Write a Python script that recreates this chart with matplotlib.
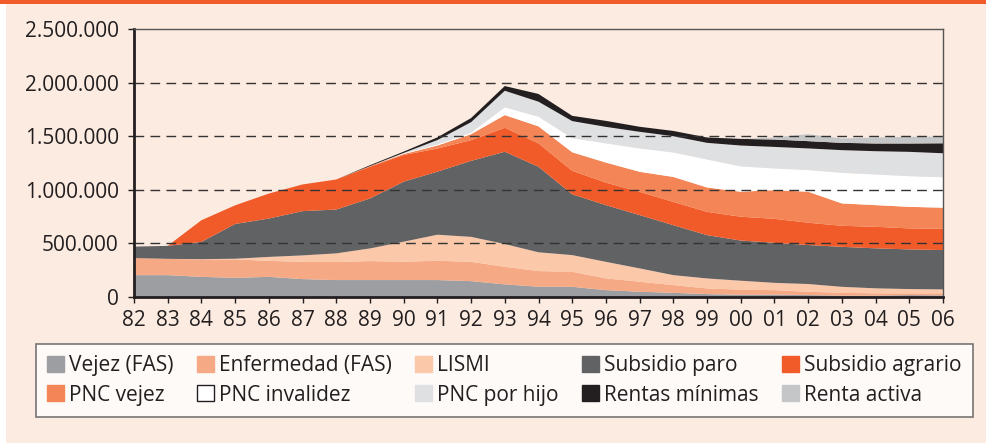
import matplotlib
matplotlib.use("Agg")
import matplotlib.pyplot as plt
from matplotlib.patches import Patch, Rectangle
import numpy as np

plt.rcParams['font.family'] = ['Open Sans', 'DejaVu Sans']

# beneficiaries, in thousands, 1982-2006
years = list(range(1982, 2007))
vejez = [204, 204, 188, 179, 188, 167, 158, 158, 158, 158, 148, 118, 96, 95, 64, 49, 39, 27, 21, 22, 18, 13, 13, 18, 15]
enfermedad = [159, 152, 162, 172, 149, 161, 168, 177, 171, 180, 180, 164, 146, 140, 110, 93, 72, 53, 47, 42, 31, 26, 21, 16, 19]
lismi = [0, 0, 3, 6, 37, 60, 81, 118, 187, 243, 233, 212, 175, 156, 154, 125, 93, 93, 84, 68, 72, 56, 47, 40, 37]
paro = [107, 121, 161, 324, 358, 413, 409, 466, 560, 588, 709, 861, 798, 567, 529, 497, 466, 404, 375, 373, 364, 373, 373, 370, 367]
agrario = [0, 0, 202, 174, 233, 249, 280, 295, 249, 216, 193, 224, 218, 219, 210, 217, 217, 217, 222, 224, 208, 196, 201, 196, 199]
pnc_vejez = [0, 0, 0, 0, 0, 0, 0, 7, 9, 28, 56, 118, 159, 173, 187, 187, 233, 228, 233, 268, 289, 209, 202, 201, 196]
pnc_invalidez = [0, 0, 0, 0, 0, 0, 0, 0, 5, 9, 14, 72, 90, 132, 179, 218, 228, 261, 237, 202, 202, 285, 286, 286, 284]
pnc_hijo = [0, 0, 0, 0, 0, 0, 0, 0, 5, 42, 98, 155, 140, 159, 154, 155, 152, 155, 194, 201, 202, 212, 217, 227, 224]
rentas = [0, 0, 0, 0, 0, 0, 0, 8, 12, 25, 38, 44, 72, 49, 56, 47, 49, 50, 62, 69, 68, 68, 72, 78, 93]
renta_activa = [0, 0, 0, 0, 0, 0, 0, 0, 0, 0, 0, 0, 0, 0, 0, 0, 0, 0, 0, 19, 65, 41, 56, 62, 62]

labels = ["Vejez (FAS)", "Enfermedad (FAS)", "LISMI", "Subsidio paro", "Subsidio agrario",
          "PNC vejez", "PNC invalidez", "PNC por hijo", "Rentas mínimas", "Renta activa"]
colors = ['#9d9ea2', '#f6a985', '#fbc8aa', '#616264', '#f15a29',
          '#f48556', '#ffffff', '#dfe0e2', '#231f20', '#c5c6c8']

series = [vejez, enfermedad, lismi, paro, agrario, pnc_vejez, pnc_invalidez, pnc_hijo, rentas, renta_activa]
series = [np.array(s) * 1000 for s in series]

bg = '#fcebe0'
txt = '#231f20'

fig = plt.figure(figsize=(9.86, 4.43), dpi=100, facecolor=bg)
ax = fig.add_axes([134/986, 1-297/443, 809/986, 268/443])
ax.set_facecolor(bg)

polys = ax.stackplot(years, *series, colors=colors, linewidth=0)

# dashed grid on top of the areas
for v in [500000, 1000000, 1500000, 2000000]:
    ax.axhline(v, color='#333333', lw=1, ls=(0, (7, 4.5)), zorder=5)

ax.set_xlim(1982, 2006)
ax.set_ylim(0, 2500000)
ax.set_xticks(years)
ax.set_xticklabels([f"{y % 100:02d}" for y in years])
yt = [0, 500000, 1000000, 1500000, 2000000, 2500000]
ax.set_yticks(yt)
ax.set_yticklabels([f"{v:,}".replace(",", ".") for v in yt])
ax.tick_params(axis='both', labelsize=15, colors=txt, length=4, width=1, direction='out')
ax.tick_params(axis='x', pad=5)
ax.tick_params(axis='y', pad=7)

for s in ['left', 'bottom']:
    ax.spines[s].set_color(txt)
    ax.spines[s].set_linewidth(2)
for s in ['top', 'right']:
    ax.spines[s].set_color('#555555')
    ax.spines[s].set_linewidth(1)
for s in ax.spines.values():
    s.set_zorder(6)

handles = []
for lab, c in zip(labels, colors):
    ec = txt if c == '#ffffff' else c
    handles.append(Patch(facecolor=c, edgecolor=ec, linewidth=1, label=lab))
order = [0, 5, 1, 6, 2, 7, 3, 8, 4, 9]
leg = fig.legend([handles[i] for i in order], [labels[i] for i in order], ncol=5,
                 loc='center', bbox_to_anchor=(36/986, 1-418/443, 937/986, 75/443),
                 mode='expand', borderaxespad=0, fontsize=15, frameon=True, fancybox=False,
                 handlelength=0.8, handleheight=0.8, handletextpad=0.25,
                 columnspacing=1.0, labelspacing=0.4, borderpad=0.55)
leg.get_frame().set_edgecolor('#555555')
leg.get_frame().set_linewidth(1.2)
for t in leg.get_texts():
    t.set_color(txt)

# orange band on top and white strip on the left
fig.add_artist(Rectangle((0, 1-4/443), 1, 4/443, transform=fig.transFigure, color='#f15a29', lw=0))
fig.add_artist(Rectangle((0, 0), 6/986, 1-4/443, transform=fig.transFigure, color='white', lw=0))

fig.savefig("out.png", dpi=100, facecolor=bg)
